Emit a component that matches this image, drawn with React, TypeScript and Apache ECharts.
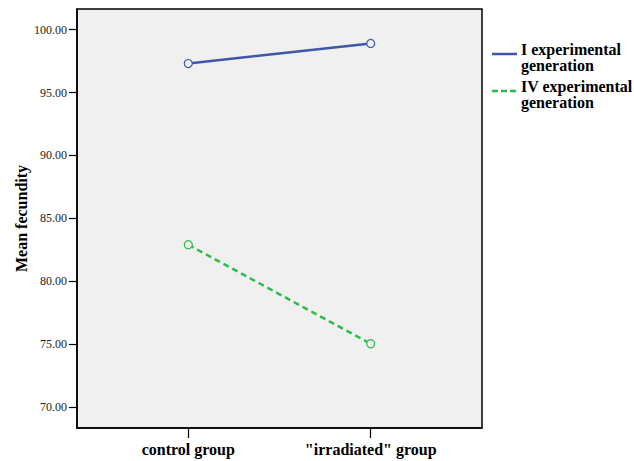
import React, { useEffect, useRef } from "react";
import * as echarts from "echarts";

const categories = ["control group", "\"irradiated\" group"];
const seriesNames = ["I experimental\ngeneration", "IV experimental\ngeneration"];
const seriesI = [97.31, 98.91];
const seriesIV = [82.9, 75.02];
const yTicks = [70, 75, 80, 85, 90, 95, 100];
const colors = ["#3f56ad", "#2dbb48"];

export default function App() {
  const ref = useRef<HTMLDivElement>(null);
  useEffect(() => {
    const chart = echarts.init(ref.current!, null, { renderer: "svg" });
    const font = "Liberation Serif";
    const xPos = categories.map((_, i) => i + 1);
    const legendTexts: any[] = [];
    const legendTops = [41, 78];
    seriesNames.forEach((name, si) => {
      name.split("\n").forEach((line, li) => {
        legendTexts.push({
          type: "text",
          x: 521,
          y: legendTops[si] + li * 16,
          style: { text: line, fontFamily: font, fontWeight: "bold", fontSize: 16, fill: "#000" },
        });
      });
    });
    chart.setOption({
      animation: false,
      backgroundColor: "#ffffff",
      textStyle: { fontFamily: font },
      grid: {
        left: 77,
        top: 9,
        right: 152,
        bottom: 33,
        show: true,
        backgroundColor: "#f0f0f0",
        borderColor: "#000000",
        borderWidth: 1.5,
      },
      xAxis: {
        type: "value",
        min: 0.39,
        max: 2.61,
        splitLine: { show: false },
        axisLine: { show: true, lineStyle: { color: "#000", width: 1.5 } },
        axisTick: { show: true, length: 10, customValues: xPos, lineStyle: { color: "#000", width: 1.2 } },
        axisLabel: {
          customValues: xPos,
          margin: 13,
          fontFamily: font,
          fontWeight: "bold",
          fontSize: 16,
          color: "#000",
          formatter: (v: number) => categories[Math.round(v) - 1] ?? "",
        },
      },
      yAxis: {
        type: "value",
        min: 68.32,
        max: 101.65,
        name: "Mean fecundity",
        nameLocation: "middle",
        nameGap: 48,
        nameMoveOverlap: false,
        nameTextStyle: { fontFamily: font, fontWeight: "bold", fontSize: 16, color: "#000" },
        splitLine: { show: false },
        axisLine: { show: true, lineStyle: { color: "#000", width: 1.5 } },
        axisTick: { show: true, length: 8, customValues: yTicks, lineStyle: { color: "#000", width: 1.2 } },
        axisLabel: {
          customValues: yTicks,
          margin: 10,
          fontFamily: font,
          fontSize: 12,
          color: "#222",
          formatter: (v: number) => v.toFixed(2),
        },
      },
      series: [
        {
          name: seriesNames[0],
          type: "line",
          data: xPos.map((x, i) => [x, seriesI[i]]),
          symbol: "circle",
          symbolSize: 8,
          itemStyle: { color: "#f0f0f0", borderColor: colors[0], borderWidth: 1.2 },
          lineStyle: { color: colors[0], width: 2.5 },
        },
        {
          name: seriesNames[1],
          type: "line",
          data: xPos.map((x, i) => [x, seriesIV[i]]),
          symbol: "circle",
          symbolSize: 8,
          itemStyle: { color: "#f0f0f0", borderColor: colors[1], borderWidth: 1.2 },
          lineStyle: { color: colors[1], width: 2.5, type: [6, 4] },
        },
      ],
      graphic: [
        {
          type: "line",
          shape: { x1: 492, y1: 54, x2: 517, y2: 54 },
          style: { stroke: colors[0], lineWidth: 2.5 },
        },
        {
          type: "line",
          shape: { x1: 492, y1: 91, x2: 517, y2: 91 },
          style: { stroke: colors[1], lineWidth: 2.5, lineDash: [6, 3] },
        },
        ...legendTexts,
      ],
    });
    return () => chart.dispose();
  }, []);
  return (
    <div
      ref={ref}
      style={{ position: "fixed", left: 0, top: 0, width: 634, height: 461 }}
    />
  );
}
